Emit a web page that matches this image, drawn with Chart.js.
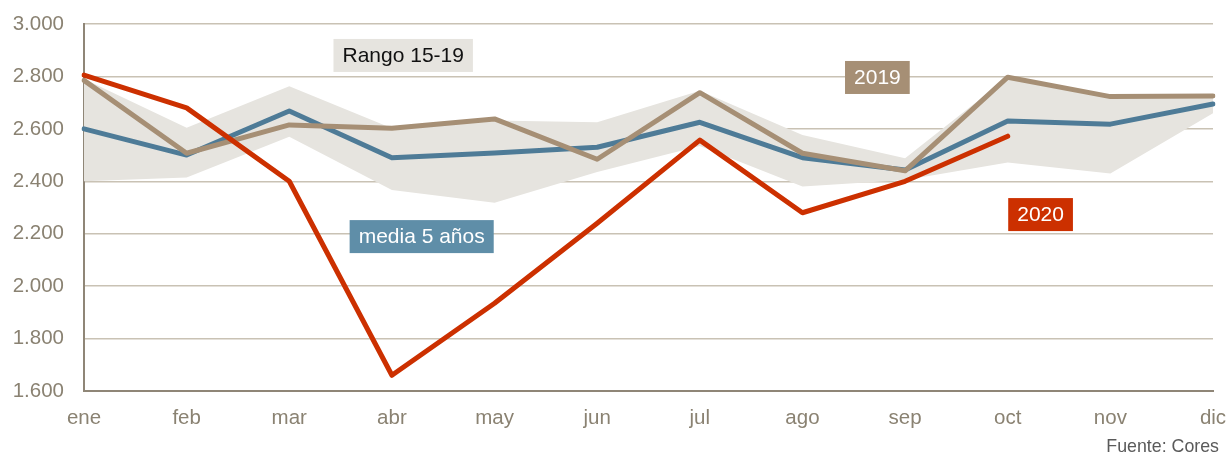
<!DOCTYPE html>
<html>
<head>
<meta charset="utf-8">
<script src="https://cdn.jsdelivr.net/npm/chart.js@4"></script>
<style>
  body { margin: 0; background: #fff; }
  #caja { width: 1229px; height: 452px; position: relative; }
</style>
</head>
<body>
<div id="caja"><canvas id="grafico"></canvas></div>
<script>
// ---- DATOS ----
const meses = ["ene","feb","mar","abr","may","jun","jul","ago","sep","oct","nov","dic"];
const serie2020 = [2805, 2680, 2400, 1660, 1935, 2240, 2557, 2280, 2400, 2572, null, null];
const serie2019 = [2785, 2507, 2615, 2602, 2638, 2484, 2738, 2507, 2440, 2797, 2723, 2725];
const media5 = [2600, 2500, 2668, 2490, 2508, 2530, 2625, 2490, 2443, 2630, 2618, 2695];
const rangoMax = [2790, 2604, 2763, 2602, 2632, 2625, 2745, 2577, 2488, 2797, 2723, 2725];
const rangoMin = [2400, 2414, 2570, 2367, 2318, 2435, 2535, 2380, 2405, 2472, 2430, 2660];

// ---- ESTILO ----
const ROJO = "#cc3000";
const ARENA = "#a68f75";
const AZUL = "#4e7b97";
const GRIS_BANDA = "#e6e4df";
const TEXTO_EJE = "#8a8272";
const FUENTE = "'Liberation Sans', Arial, sans-serif";

// etiquetas en la grafica (posicion en mes / valor)
const notas = [
  { texto: "Rango 15-19", mes: 3.11, valor: 2880, fondo: GRIS_BANDA, color: "#111111" },
  { texto: "media 5 años", mes: 3.29, valor: 2189, fondo: "#5f8ea8", color: "#ffffff" },
  { texto: "2019", mes: 7.73, valor: 2796, fondo: ARENA, color: "#ffffff" },
  { texto: "2020", mes: 9.32, valor: 2273, fondo: ROJO, color: "#ffffff" }
];

function miles(v) {
  const s = String(Math.round(v));
  return s.replace(/\B(?=(\d{3})+(?!\d))/g, ".");
}

const pluginNotas = {
  id: "notas",
  afterDatasetsDraw(chart) {
    const ctx = chart.ctx;
    const x = chart.scales.x, y = chart.scales.y;
    ctx.save();
    ctx.font = "21px " + FUENTE;
    ctx.textBaseline = "middle";
    ctx.textAlign = "center";
    notas.forEach(n => {
      const cx = x.getPixelForValue(n.mes);
      const cy = y.getPixelForValue(n.valor);
      const w = ctx.measureText(n.texto).width + 18;
      const h = 33;
      ctx.fillStyle = n.fondo;
      ctx.fillRect(cx - w / 2, cy - h / 2, w, h);
      ctx.fillStyle = n.color;
      ctx.fillText(n.texto, cx, cy + 1);
    });
    // fuente
    ctx.font = "17.8px " + FUENTE;
    ctx.textAlign = "right";
    ctx.textBaseline = "alphabetic";
    ctx.fillStyle = "#5a5a5a";
    ctx.fillText("Fuente: Cores", 1219, 452);
    ctx.restore();
  }
};

const linea = { borderWidth: 5, pointRadius: 0, borderCapStyle: "round", borderJoinStyle: "round", fill: false };

new Chart(document.getElementById("grafico"), {
  type: "line",
  data: {
    labels: meses,
    datasets: [
      { ...linea, label: "2020", data: serie2020, borderColor: ROJO },
      { ...linea, label: "2019", data: serie2019, borderColor: ARENA },
      { ...linea, label: "media 5 años", data: media5, borderColor: AZUL },
      { label: "max", data: rangoMax, borderWidth: 0, borderColor: "rgba(0,0,0,0)", pointRadius: 0,
        backgroundColor: GRIS_BANDA, fill: "+1" },
      { label: "min", data: rangoMin, borderWidth: 0, borderColor: "rgba(0,0,0,0)", pointRadius: 0, fill: false }
    ]
  },
  options: {
    responsive: true,
    maintainAspectRatio: false,
    animation: false,
    layout: { padding: { top: 24, right: 16, left: 0, bottom: 0 } },
    plugins: { legend: { display: false }, tooltip: { enabled: false } },
    scales: {
      x: {
        offset: false,
        grid: { display: false, drawTicks: false },
        border: { display: true, color: "#8f8677", width: 2 },
        ticks: { color: TEXTO_EJE, font: { family: FUENTE, size: 20.5 }, padding: 15,
          autoSkip: false, maxRotation: 0 },
        afterFit(s) { s.height = 61; s.paddingLeft = 0; s.paddingRight = 0; }
      },
      y: {
        min: 1600, max: 3000,
        grid: { drawTicks: false, lineWidth: 1.5,
          color: c => c.tick.value === 1600 ? "rgba(0,0,0,0)" : "#c9c2b4" },
        border: { display: true, color: "#8f8677", width: 2 },
        ticks: { stepSize: 200, color: TEXTO_EJE, font: { family: FUENTE, size: 20.5 }, padding: 20,
          callback: v => miles(v) },
        afterFit(s) { s.width = 84; s.paddingTop = 0; s.paddingBottom = 0; }
      }
    }
  },
  plugins: [pluginNotas]
});
</script>
</body>
</html>
